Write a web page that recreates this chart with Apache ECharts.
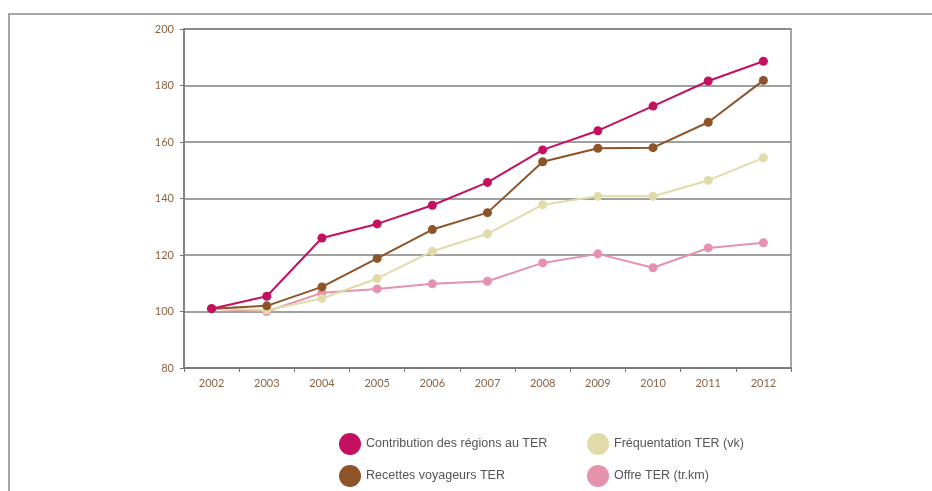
<!DOCTYPE html>
<html>
<head>
<meta charset="utf-8">
<script src="https://cdn.jsdelivr.net/npm/echarts@6/dist/echarts.min.js"></script>
<style>
  html, body { margin: 0; padding: 0; background: #fff; }
  #chart { width: 932px; height: 491px; }
</style>
</head>
<body>
<div id="chart"></div>
<script>
const years = ["2002", "2003", "2004", "2005", "2006", "2007", "2008", "2009", "2010", "2011", "2012"];
const contribution = [101, 105.4, 126, 131, 137.6, 145.7, 157.2, 164, 172.7, 181.6, 188.6];
const recettes = [101, 102, 108.7, 118.8, 129, 135, 153, 157.8, 158, 167, 181.8];
const frequentation = [101, 100.5, 104.6, 111.7, 121.3, 127.5, 137.8, 140.8, 140.8, 146.4, 154.4];
const offre = [101, 100, 106.6, 108, 109.8, 110.7, 117.2, 120.4, 115.5, 122.5, 124.3];

const names = [
  "Contribution des régions au TER",
  "Recettes voyageurs TER",
  "Fréquentation TER (vk)",
  "Offre TER (tr.km)",
];
const colors = ["#c4105e", "#8c5428", "#e1dba9", "#e592ad"];
const values = [contribution, recettes, frequentation, offre];

const labelColor = "#8a6440";

// legend position for each series: [left, top]
const legendPos = [[334, 428], [334, 460], [582, 428], [582, 460]];

const chart = echarts.init(document.getElementById("chart"));

const series = values.map((data, i) => ({
  name: names[i],
  type: "line",
  data: data,
  symbol: "circle",
  symbolSize: 9,
  color: colors[i],
  lineStyle: { width: 2, color: colors[i] },
  itemStyle: { color: colors[i] },
  z: 10 - i,
}));

const legends = names.map((n, i) => ({
  left: legendPos[i][0],
  top: legendPos[i][1],
  data: [n],
  icon: "circle",
  itemWidth: 22,
  itemHeight: 22,
  itemGap: 10,
  selectedMode: false,
  textStyle: { color: "#555", fontSize: 12.5, fontFamily: "'Liberation Sans', sans-serif" },
}));

chart.setOption({
  animation: false,
  backgroundColor: "#fff",
  grid: {
    left: 184,
    right: 141,
    top: 29,
    bottom: 123,
    show: true,
    borderColor: "#8a8a8a",
    borderWidth: 1.5,
  },
  legend: legends,
  xAxis: {
    type: "category",
    data: years,
    boundaryGap: true,
    axisLine: { lineStyle: { color: "#777", width: 1.5 } },
    axisTick: { show: true, length: 4, lineStyle: { color: "#777" } },
    axisLabel: { color: labelColor, fontSize: 11, margin: 10, fontFamily: "Lato, sans-serif" },
  },
  yAxis: {
    type: "value",
    min: 80,
    max: 200,
    interval: 20,
    axisLine: { show: true, lineStyle: { color: "#777", width: 1.5 } },
    axisTick: { show: true, length: 4, lineStyle: { color: "#777" } },
    axisLabel: { color: labelColor, fontSize: 11, margin: 10, fontFamily: "Lato, sans-serif" },
    splitLine: { lineStyle: { color: "#808080", width: 1.5 } },
  },
  graphic: [
    {
      type: "polyline",
      shape: { points: [[9, 491], [9, 14], [932, 14]] },
      style: { stroke: "#8a8a8a", lineWidth: 1.5, fill: null },
      silent: true,
    },
  ],
  series: series,
});
</script>
</body>
</html>
